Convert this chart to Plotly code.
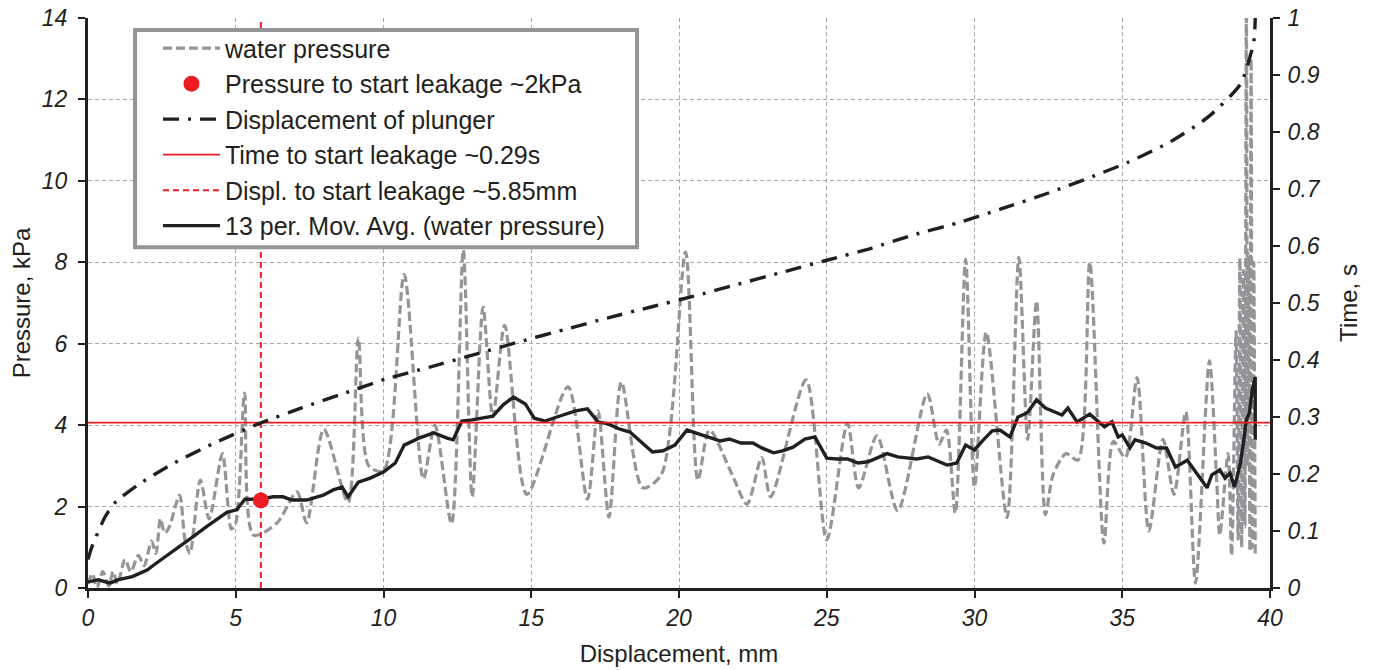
import plotly.graph_objects as go

# water pressure (kPa) vs displacement (mm)
wp_x = [0.0, 0.15, 0.3, 0.5, 0.7, 0.85, 1.0, 1.25, 1.45, 1.7, 1.9, 2.15, 2.3, 2.45, 2.6, 2.75,
        3.1, 3.28, 3.45, 3.8, 4.1, 4.55, 4.85, 5.0, 5.3, 5.6, 6.4, 7.07, 7.4, 7.98, 8.8, 9.15,
        9.5, 10.0, 10.7, 11.35, 11.74, 12.3, 12.7, 13.0, 13.37, 13.7, 14.1, 14.85, 16.24, 16.9,
        17.26, 17.63, 18.05, 18.77, 19.4, 20.22, 20.64, 21.03, 21.8, 22.3, 22.8, 23.1, 24.3,
        25.0, 25.7, 26.08, 26.7, 27.4, 28.4, 28.8, 29.05, 29.35, 29.7, 30.0, 30.4, 31.1, 31.5,
        31.8, 32.1, 32.4, 32.66, 33.1, 33.5, 33.9, 34.38, 34.7, 35.1, 35.5, 35.9, 36.38, 36.75,
        37.15, 37.48, 37.95, 38.2, 38.3, 38.58, 38.7, 38.85, 38.92, 38.98, 39.04, 39.1, 39.15,
        39.2, 39.24, 39.28, 39.32, 39.36, 39.4, 39.45, 39.5]
wp_p = [0.1, 0.35, 0.0, 0.4, 0.05, 0.4, 0.1, 0.7, 0.4, 0.8, 0.55, 1.15, 0.85, 1.7, 1.35, 1.5,
        2.28, 1.2, 0.85, 2.65, 1.7, 3.3, 1.45, 1.6, 4.79, 1.3, 1.6, 2.36, 1.6, 3.9, 2.1, 6.14,
        3.0, 2.88, 7.7, 2.68, 4.0, 1.58, 8.3, 2.24, 6.9, 4.2, 6.45, 2.3, 4.94, 2.18,
        4.35, 1.74, 5.06, 2.46, 2.78, 8.25, 2.65, 3.88, 2.78, 2.06, 3.2, 2.24, 5.11,
        1.18, 4.05, 2.46, 3.74, 1.9, 4.77, 3.53, 3.88, 1.84, 8.07, 2.48, 6.28, 1.73, 8.12,
        3.65, 7.05, 1.8, 2.78, 3.3, 3.14, 8.0, 1.1, 3.6, 3.2, 5.17, 1.4, 3.65, 2.3,
        4.33, 0.12, 5.58, 2.58, 1.3, 3.3, 0.8, 6.3, 1.2, 8.1, 1.0, 7.8, 1.5,
        14.5, 3.0, 8.2, 0.9, 13.0, 1.0, 8.0, 0.8]

# 13 per. moving average of water pressure (kPa)
ma_x = [0.0, 0.35, 0.75, 1.0, 1.5, 2.0, 2.33, 2.88, 3.2, 3.5, 4.0, 4.35, 4.7, 5.03, 5.31, 5.82,
        6.27, 6.6, 6.9, 7.4, 7.96, 8.3, 8.6, 8.8, 9.15, 9.55, 10.0, 10.4, 10.7, 11.2, 11.7,
        12.15, 12.36, 12.65, 13.0, 13.7, 14.05, 14.4, 14.8, 15.1, 15.47, 15.87, 16.5, 16.9,
        17.26, 17.6, 18.0, 18.34, 18.75, 19.1, 19.46, 19.86, 20.27, 20.6, 20.95, 21.4, 21.7,
        22.1, 22.5, 22.8, 23.2, 23.5, 23.86, 24.26, 24.6, 25.0, 25.35, 25.7, 26.06, 26.4,
        27.04, 27.4, 28.05, 28.43, 29.07, 29.4, 29.7, 30.0, 30.3, 30.6, 30.86, 31.2, 31.47,
        31.78, 32.1, 32.4, 32.96, 33.16, 33.47, 33.9, 34.4, 34.65, 34.86, 35.0, 35.26, 35.43,
        35.8, 36.16, 36.5, 36.8, 37.2, 37.5, 37.87, 38.03, 38.3, 38.48, 38.65, 38.8, 39.0,
        39.1, 39.2, 39.3, 39.4, 39.5, 39.5]
ma_p = [0.15, 0.2, 0.12, 0.2, 0.28, 0.44, 0.62, 0.9, 1.08, 1.23, 1.5, 1.67, 1.86, 1.92, 2.18, 2.18,
        2.24, 2.24, 2.16, 2.16, 2.28, 2.41, 2.48, 2.24, 2.6, 2.7, 2.85, 3.07, 3.51, 3.68, 3.81,
        3.68, 3.64, 4.1, 4.13, 4.22, 4.5, 4.69, 4.52, 4.17, 4.1, 4.2, 4.35, 4.4,
        4.08, 4.03, 3.9, 3.83, 3.56, 3.34, 3.37, 3.51, 3.88, 3.8, 3.71, 3.61, 3.66,
        3.56, 3.56, 3.44, 3.32, 3.37, 3.46, 3.66, 3.71, 3.19, 3.17, 3.17, 3.07, 3.1,
        3.3, 3.22, 3.17, 3.22, 3.02, 3.07, 3.51, 3.39, 3.64, 3.86, 3.88, 3.71, 4.2,
        4.3, 4.62, 4.42, 4.25, 4.42, 4.08, 4.27, 3.96, 4.08, 3.71, 3.76, 3.44, 3.64,
        3.56, 3.44, 3.44, 2.97, 3.14, 2.82, 2.46, 2.78, 2.9, 2.7, 2.82, 2.48, 3.07,
        3.56, 4.13, 4.3, 4.86, 5.18, 3.64]

# displacement of plunger: time (s) vs displacement (mm)
pl_x = [0.0, 0.13, 0.58, 0.9, 1.66, 2.94, 4.35, 5.77, 7.23, 8.7, 10.1, 11.6, 13.1, 14.6, 16.1,
        17.6, 19.05, 20.5, 22.0, 23.5, 25.0, 26.5, 27.9, 29.4, 30.9, 32.5, 34.0, 35.2, 36.6,
        37.9, 39.0, 39.45, 39.5]
pl_t = [0.05, 0.072, 0.125, 0.149, 0.18, 0.22, 0.256, 0.288, 0.316, 0.342, 0.367, 0.388, 0.41,
        0.432, 0.453, 0.474, 0.493, 0.512, 0.533, 0.554, 0.575, 0.596, 0.619, 0.64, 0.665,
        0.693, 0.722, 0.747, 0.782, 0.826, 0.884, 0.958, 1.0]

leak_x = 5.85      # mm
leak_p = 2.15      # kPa
leak_t = 0.29      # s

FONT = "Liberation Sans, Arial, sans-serif"
RED = "#ed1c24"
GREY = "#939598"
BLACK = "#231f20"

fig = go.Figure()

fig.add_trace(go.Scatter(
    x=wp_x, y=wp_p, mode="lines", name="water pressure", legendrank=1,
    line=dict(color=GREY, width=3.2, dash="9px,4px", shape="spline", smoothing=0.8)))

fig.add_trace(go.Scatter(
    x=[leak_x, leak_x], y=[0, 14], mode="lines", name="Displ. to start leakage ~5.85mm",
    legendrank=5, line=dict(color=RED, width=2, dash="6px,4px")))

fig.add_trace(go.Scatter(
    x=[0, 40], y=[leak_t, leak_t], yaxis="y2", mode="lines",
    name="Time to start leakage ~0.29s", legendrank=4,
    line=dict(color=RED, width=1.8)))

fig.add_trace(go.Scatter(
    x=pl_x, y=pl_t, yaxis="y2", mode="lines", name="Displacement of plunger", legendrank=3,
    line=dict(color=BLACK, width=3.4, dash="16px,9px,3px,9px", shape="spline", smoothing=0.6)))

fig.add_trace(go.Scatter(
    x=ma_x, y=ma_p, mode="lines", name="13 per. Mov. Avg. (water pressure)", legendrank=6,
    line=dict(color=BLACK, width=3.4)))

fig.add_trace(go.Scatter(
    x=[leak_x], y=[leak_p], mode="markers", name="Pressure to start leakage ~2kPa",
    legendrank=2, marker=dict(color=RED, size=16)))

tickfont = dict(family=FONT, size=23, color=BLACK, style="italic")
titlefont = dict(family=FONT, size=24, color=BLACK)

# opaque legend frame (drawn as a shape so the padding can match)
fig.add_shape(type="rect", xref="paper", yref="paper",
              x0=0.0398, x1=0.4645, y0=0.598, y1=0.979, layer="above",
              line=dict(color=GREY, width=4), fillcolor="white")

fig.update_layout(
    width=1374, height=670,
    margin=dict(l=88, r=104, t=18, b=82, autoexpand=False),
    paper_bgcolor="white", plot_bgcolor="white",
    font=dict(family=FONT, color=BLACK),
    xaxis=dict(
        range=[0, 40], dtick=5, tick0=0, automargin=False,
        showgrid=True, gridcolor="#a7a9ac", griddash="4px,3px", gridwidth=1,
        showline=True, linecolor=BLACK, linewidth=3,
        ticks="outside", ticklen=7, tickwidth=2, tickcolor=BLACK,
        tickfont=tickfont, zeroline=False,
        title=dict(text="Displacement, mm", font=titlefont, standoff=16)),
    yaxis=dict(
        range=[0, 14], dtick=2, tick0=0, automargin=False,
        showgrid=True, gridcolor="#a7a9ac", griddash="4px,3px", gridwidth=1,
        showline=True, linecolor=BLACK, linewidth=3,
        ticks="outside", ticklen=7, tickwidth=2, tickcolor=BLACK,
        tickfont=tickfont, zeroline=False, ticklabelstandoff=6,
        title=dict(text="Pressure, kPa", font=titlefont, standoff=5)),
    yaxis2=dict(
        range=[0, 1], dtick=0.1, tick0=0, overlaying="y", side="right", automargin=False,
        showgrid=False, showline=True, linecolor=BLACK, linewidth=3,
        ticks="outside", ticklen=7, tickwidth=2, tickcolor=BLACK,
        tickfont=tickfont, zeroline=False, ticklabelstandoff=3,
        title=dict(text="Time, s", font=titlefont, standoff=21)),
    legend=dict(
        x=0.0592, y=0.987, xanchor="left", yanchor="top",
        bgcolor="rgba(0,0,0,0)", borderwidth=0,
        font=dict(family=FONT, size=25, color=BLACK),
        tracegroupgap=0, itemwidth=57),
    showlegend=True,
)

fig.write_html("out.html", config={"displayModeBar": False},
               post_script="document.body.style.margin='0';")
